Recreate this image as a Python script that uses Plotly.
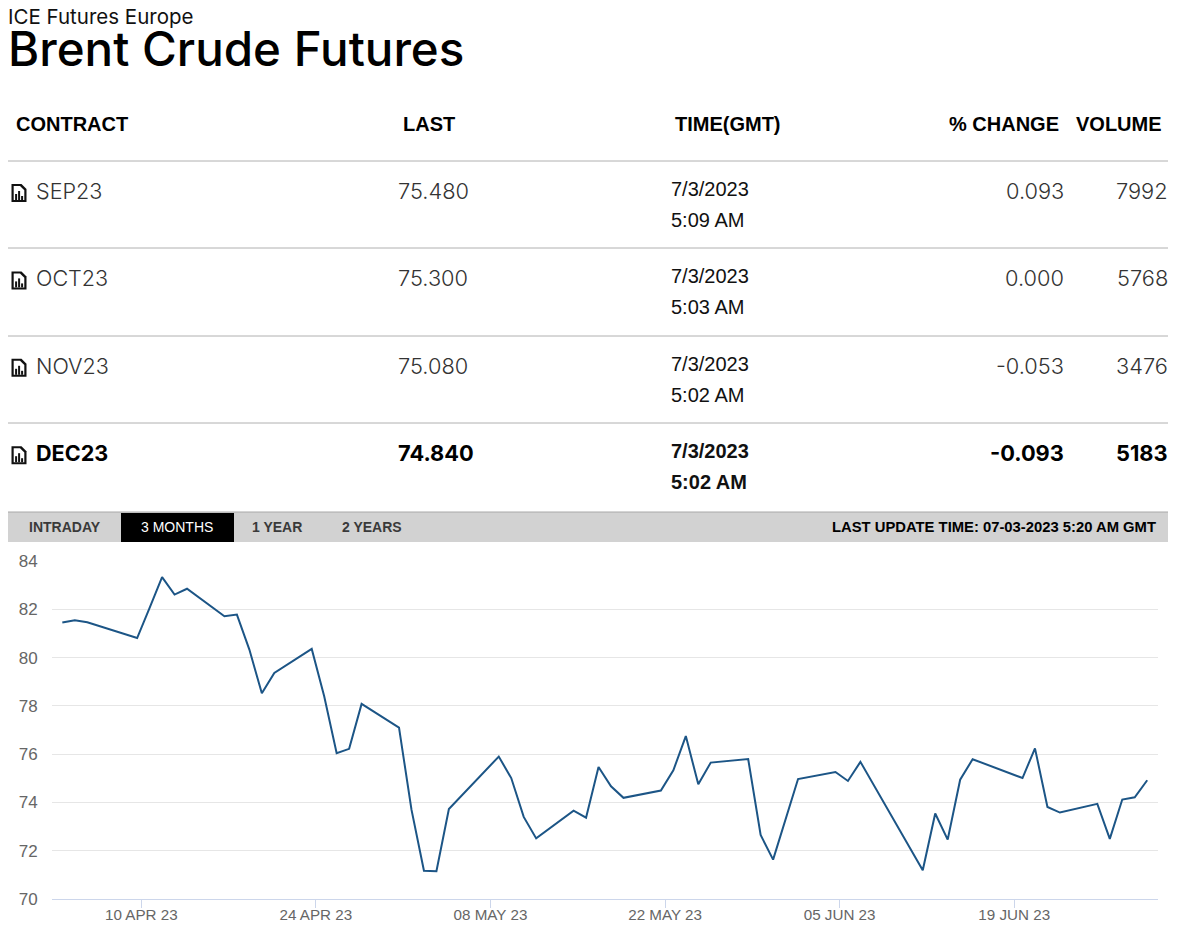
import pandas as pd
import plotly.graph_objects as go

W, H = 1180, 934

# ---- data ----
dates = ["2023-04-04","2023-04-05","2023-04-06","2023-04-10","2023-04-11","2023-04-12","2023-04-13","2023-04-14",
         "2023-04-17","2023-04-18","2023-04-19","2023-04-20","2023-04-21","2023-04-24","2023-04-25","2023-04-26",
         "2023-04-27","2023-04-28","2023-05-01","2023-05-02","2023-05-03","2023-05-04","2023-05-05","2023-05-09",
         "2023-05-10","2023-05-11","2023-05-12","2023-05-15","2023-05-16","2023-05-17","2023-05-18","2023-05-19",
         "2023-05-22","2023-05-23","2023-05-24","2023-05-25","2023-05-26","2023-05-29","2023-05-30","2023-05-31",
         "2023-06-02","2023-06-05","2023-06-06","2023-06-07","2023-06-12","2023-06-13","2023-06-14","2023-06-15",
         "2023-06-16","2023-06-20","2023-06-21","2023-06-22","2023-06-23","2023-06-26","2023-06-27","2023-06-28",
         "2023-06-29","2023-06-30"]
prices = [81.45,81.55,81.46,80.81,82.06,83.33,82.61,82.85,
          81.71,81.78,80.33,78.52,79.36,80.36,78.40,76.04,
          76.22,78.08,77.10,73.70,71.17,71.15,73.73,75.90,
          75.01,73.40,72.51,73.66,73.37,75.47,74.67,74.19,
          74.49,75.33,76.75,74.75,75.65,75.80,72.65,71.63,
          74.97,75.26,74.89,75.68,71.19,73.54,72.46,74.94,
          75.79,75.01,76.24,73.81,73.58,73.94,72.49,74.12,
          74.21,74.92]
tick_dates = ["2023-04-10","2023-04-24","2023-05-08","2023-05-22","2023-06-05","2023-06-19"]
tick_labels = ["10 APR 23","24 APR 23","08 MAY 23","22 MAY 23","05 JUN 23","19 JUN 23"]
y_ticks = [70,72,74,76,78,80,82,84]

contracts = ["SEP23","OCT23","NOV23","DEC23"]
last_prices = ["75.480","75.300","75.080","74.840"]
trade_dates = ["7/3/2023","7/3/2023","7/3/2023","7/3/2023"]
trade_times = ["5:09 AM","5:03 AM","5:02 AM","5:02 AM"]
pct_changes = ["0.093","0.000","-0.053","-0.093"]
volumes = ["7992","5768","3476","5183"]
headers = ["CONTRACT","LAST","TIME(GMT)","% CHANGE","VOLUME"]
range_tabs = ["INTRADAY","3 MONTHS","1 YEAR","2 YEARS"]

FONT = "Liberation Sans"
ALT = "Inter"
px = lambda x: x / W
py = lambda y: 1 - y / H

# timestamps are shown shifted back from midnight in the source chart
x_vals = pd.to_datetime(dates) - pd.Timedelta(hours=8)
day0 = pd.Timestamp("2023-04-10")
PX_PER_DAY = 12.47
x_left, x_right = 51.7, 1158
x_range = [day0 + pd.Timedelta(days=(x_left - 141.3) / PX_PER_DAY),
           day0 + pd.Timedelta(days=(x_right - 141.3) / PX_PER_DAY)]

fig = go.Figure(go.Scatter(x=x_vals, y=prices, mode="lines",
                           line=dict(color="#1c5586", width=2), hoverinfo="skip"))

annotations = []
def text(x, y, s, size, color="#000", anchor="left", weight=None, family=FONT):
    annotations.append(dict(x=px(x), y=py(y), xref="paper", yref="paper", text=s, showarrow=False,
                            xanchor=anchor, yanchor="middle", borderpad=0, borderwidth=0, align=anchor if anchor != "center" else "center",
                            font=dict(family=family, size=size, color=color,
                                      weight=weight if weight else "normal")))

shapes = []
def rect(x0, y0, x1, y1, fill):
    shapes.append(dict(type="rect", xref="paper", yref="paper", x0=px(x0), x1=px(x1), y0=py(y0), y1=py(y1),
                       fillcolor=fill, line=dict(width=0), layer="below"))
def hline(y, color, x0=8, x1=1168, w=1):
    shapes.append(dict(type="line", xref="paper", yref="paper", x0=px(x0), x1=px(x1), y0=py(y), y1=py(y),
                       line=dict(color=color, width=w), layer="below"))
def icon(cy):
    def P(pts):
        return "M" + " L".join(f"{px(11.5 + a)},{py(cy + b)}" for a, b in pts) + " Z"
    shapes.append(dict(type="path", xref="paper", yref="paper", fillcolor="#111", line=dict(width=0),
                       path=P([(0, -9), (10, -9), (15, -4), (15, 9), (0, 9)])))
    shapes.append(dict(type="path", xref="paper", yref="paper", fillcolor="#fff", line=dict(width=0),
                       path=P([(2.2, -7), (8.5, -7), (12.8, -2.7), (12.8, 7), (2.2, 7)])))
    for a, top in ((3.6, 1), (6.6, -2), (9.6, 3)):
        shapes.append(dict(type="path", xref="paper", yref="paper", fillcolor="#111", line=dict(width=0),
                           path=P([(a, top), (a + 2, top), (a + 2, 7), (a, 7)])))

# heading: one block of two lines, spaced by the base font's line height
text(8, 40.5,
     '<span style="font-size:20.5px;fill:#111">ICE Futures Europe</span><br>'
     '<span style="font-size:47.5px;font-weight:500">Brent Crude Futures</span>',
     32, "#000", family=ALT)

# table header
for s, x in zip(headers, [16, 403, 675, 949, 1076]):
    text(x, 124, s, 20, "#000", weight="bold")
for y in (161, 248, 336, 423):
    hline(y, "#b0b0b0")

# table rows
row_step = 87.4
for i, c in enumerate(contracts):
    y = 191 + i * row_step
    is_bold = i == 3
    col = "#000" if is_bold else "#333"
    wt = "bold" if is_bold else 300
    icon(y + 2)
    text(36, y, c, 21.6, col, weight=wt, family=ALT)
    text(398, y, last_prices[i], 21.8, col, weight=wt, family=ALT)
    text(671, y - 2, trade_dates[i], 20, "#111", weight="bold" if is_bold else None)
    text(671, y + 29, trade_times[i], 20, "#111", weight="bold" if is_bold else None)
    text(1064, y, pct_changes[i], 21.8, col, anchor="right", weight=wt, family=ALT)
    text(1168, y, volumes[i], 21.8, col, anchor="right", weight=wt, family=ALT)

# range band
rect(8, 512, 1168, 542, "#d2d2d2")
hline(512, "#a8a8a8")
rect(121, 513, 234, 542, "#000")
for s, xc, col in zip(range_tabs, [64.5, 177.5, 277, 372], ["#3a3a3a", "#fff", "#3a3a3a", "#3a3a3a"]):
    text(xc, 527, s, 14, col, anchor="center", weight=None if col == "#fff" else "bold")
text(1156, 527, "LAST UPDATE TIME: 07-03-2023 5:20 AM GMT", 14.8, "#000", anchor="right", weight="bold")

fig.update_layout(
    width=W, height=H, margin=dict(l=0, r=0, t=0, b=0, autoexpand=False),
    paper_bgcolor="#fff", plot_bgcolor="#fff", showlegend=False,
    annotations=annotations, shapes=shapes,
    xaxis=dict(domain=[px(x_left), px(x_right)], range=x_range, type="date",
               tickmode="array", tickvals=pd.to_datetime(tick_dates), ticktext=tick_labels,
               ticks="outside", ticklen=8, tickwidth=1, tickcolor="#ccd6eb",
               showgrid=False, showline=True, linecolor="#ccd6eb", linewidth=1, zeroline=False,
               ticklabelstandoff=-6,
               tickfont=dict(family=FONT, size=15.2, color="#666")),
    yaxis=dict(domain=[py(899), py(561)], range=[70, 84], tickmode="array", tickvals=y_ticks,
               showgrid=True, gridcolor="#e6e6e6", gridwidth=1, zeroline=False, showline=False,
               ticks="", ticklabelstandoff=13,
               tickfont=dict(family=FONT, size=17, color="#666")),
)
fig.write_html("out.html", config=dict(displayModeBar=False),
               post_script="document.body.style.margin='0';")
